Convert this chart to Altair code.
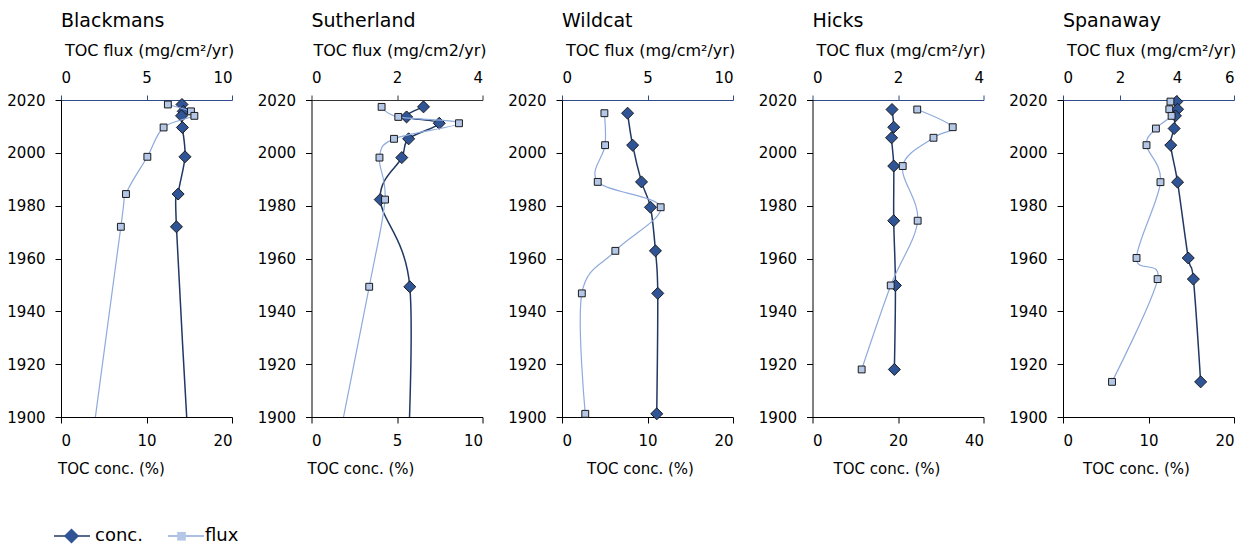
import altair as alt
import pandas as pd

# ---------------- data ----------------
SITES = ["Blackmans", "Sutherland", "Wildcat", "Hicks", "Spanaway"]
SERIES = ["conc.", "flux"]
MARKER_KEYS = ["c", "f"]

blackmans_year = [2018.3, 2015.7, 2014.0, 2009.6, 1998.5, 1984.4, 1972.0, 1880.0]
blackmans_conc = [14.15, 14.3, 14.1, 14.2, 14.5, 13.7, 13.5, 15.05]
blackmans_flux = [6.25, 7.6, 7.8, 6.0, 5.05, 3.8, 3.5, 1.6]

sutherland_year = [2017.4, 2013.6, 2011.2, 2005.3, 1998.2, 1982.3, 1949.3, 1870.0]
sutherland_conc = [6.55, 5.56, 7.47, 5.68, 5.28, 4.02, 5.75, 5.55]
sutherland_flux = [1.64, 2.03, 3.45, 1.93, 1.59, 1.72, 1.35, 0.38]

wildcat_year = [2015.0, 2002.9, 1989.0, 1979.4, 1962.9, 1946.8, 1901.2]
wildcat_conc = [7.67, 8.26, 9.3, 10.35, 10.93, 11.2, 11.08]
wildcat_flux = [2.48, 2.52, 2.09, 5.77, 3.12, 1.16, 1.36]

hicks_year = [2016.4, 2009.7, 2005.7, 1995.0, 1974.3, 1949.8, 1918.0]
hicks_conc = [18.6, 19.0, 18.5, 19.0, 19.0, 19.4, 19.15]
hicks_flux = [2.45, 3.28, 2.83, 2.11, 2.46, 1.83, 1.15]

spanaway_year = [2019.4, 2016.5, 2014.0, 2009.2, 2002.9, 1988.9, 1960.2, 1952.2, 1913.3]
spanaway_conc = [13.3, 13.4, 13.15, 13.0, 12.6, 13.4, 14.65, 15.25, 16.1]
spanaway_flux = [3.77, 3.73, 3.81, 3.26, 2.93, 3.42, 2.58, 3.32, 1.72]

YEARS = [blackmans_year, sutherland_year, wildcat_year, hicks_year, spanaway_year]
CONC = [blackmans_conc, sutherland_conc, wildcat_conc, hicks_conc, spanaway_conc]
FLUX = [blackmans_flux, sutherland_flux, wildcat_flux, hicks_flux, spanaway_flux]

YEAR_DOMAIN = [1900, 2020]
YEAR_TICKS = [1900, 1920, 1940, 1960, 1980, 2000, 2020]
CONC_DOMAIN = [[0, 20], [0, 10], [0, 20], [0, 40], [0, 20]]
CONC_TICKS = [[0, 10, 20], [0, 5, 10], [0, 10, 20], [0, 20, 40], [0, 10, 20]]
FLUX_DOMAIN = [[0, 10], [0, 4], [0, 10], [0, 4], [0, 6]]
FLUX_TICKS = [[0, 5, 10], [0, 2, 4], [0, 5, 10], [0, 2, 4], [0, 2, 4, 6]]
FLUX_TITLES = ["TOC flux (mg/cm²/yr)", "TOC flux (mg/cm2/yr)", "TOC flux (mg/cm²/yr)",
               "TOC flux (mg/cm²/yr)", "TOC flux (mg/cm²/yr)"]
CONC_TITLE = "TOC conc. (%)"

# ---------------- styles ----------------
CONC_LINE = "#1F3864"
CONC_FILL = "#2F5597"
FLUX_LINE = "#8FAADC"
FLUX_FILL = "#B4C7E7"
MARKER_STROKE = "#1A1A1A"
TOP_AXIS_COLORS = ["#2F4B8A", "#333333", "#2F4B8A", "#2F4B8A", "#2F4B8A"]
CONC_TITLE_X = [50, 49, 78, 74, 73]
FONT = "DejaVu Sans"
PLOT_W = 171
PLOT_H = 317

DIAMOND = "M0,-0.42L0.42,0L0,0.42L-0.42,0Z"
SQUARE = "M-0.24,-0.24H0.24V0.24H-0.24Z"

LEG_X = -8
LEG_Y = 417

# line part of the legend: no label text, columns spaced to sit under the marker legend
legend_lines = alt.Legend(
    title=None, orient="none", legendX=LEG_X, legendY=LEG_Y, direction="horizontal",
    symbolType="stroke", symbolSize=1296, symbolStrokeWidth=1.5,
    labelExpr="''", labelFontSize=18, labelFont=FONT, labelOffset=0,
    columnPadding=72, padding=0, zindex=1,
)
legend_marks = alt.Legend(
    title=None, orient="none", legendX=LEG_X, legendY=LEG_Y, direction="horizontal",
    symbolSize=1296, symbolStrokeColor=MARKER_STROKE, symbolStrokeWidth=1,
    labelExpr="datum.label == 'c' ? 'conc.' : 'flux'",
    labelFontSize=18, labelFont=FONT, labelColor="black", labelOffset=5,
    columnPadding=20, padding=0, zindex=2,
)


def panel(i):
    yrs = YEARS[i]
    n = len(yrs)
    df = pd.DataFrame({
        "year": yrs + yrs,
        "value": CONC[i] + FLUX[i],
        "series": [SERIES[0]] * n + [SERIES[1]] * n,
        "marker": [MARKER_KEYS[0]] * n + [MARKER_KEYS[1]] * n,
    })

    y_enc = alt.Y(
        "year:Q",
        scale=alt.Scale(domain=YEAR_DOMAIN, nice=False, zero=False),
        axis=alt.Axis(values=YEAR_TICKS, format="d", title=None, tickSize=6,
                      labelPadding=10, domainColor="black", tickColor="black"),
    )
    stroke_enc = alt.Stroke("series:N", scale=alt.Scale(domain=SERIES, range=[CONC_LINE, FLUX_LINE]),
                            legend=legend_lines)
    fill_enc = alt.Fill("marker:N", scale=alt.Scale(domain=MARKER_KEYS, range=[CONC_FILL, FLUX_FILL]),
                        legend=legend_marks)
    shape_enc = alt.Shape("marker:N", scale=alt.Scale(domain=MARKER_KEYS, range=[DIAMOND, SQUARE]),
                          legend=legend_marks)
    order_enc = alt.Order("year:Q", sort="descending")

    conc_x = alt.X(
        "value:Q",
        scale=alt.Scale(domain=CONC_DOMAIN[i], nice=False),
        axis=alt.Axis(orient="bottom", values=CONC_TICKS[i], title=CONC_TITLE,
                      titleX=CONC_TITLE_X[i], tickSize=6, labelPadding=10, titlePadding=13,
                      domainColor="black", tickColor="black", titleFontSize=15),
    )
    flux_x = alt.X(
        "value:Q",
        scale=alt.Scale(domain=FLUX_DOMAIN[i], nice=False),
        axis=alt.Axis(orient="top", values=FLUX_TICKS[i], title=FLUX_TITLES[i],
                      titleX=88, tickSize=5, labelPadding=10, titlePadding=12,
                      domainColor=TOP_AXIS_COLORS[i], tickColor=TOP_AXIS_COLORS[i],
                      titleFontSize=16),
    )

    base = alt.Chart(df)
    conc_df = base.transform_filter(alt.datum.series == SERIES[0])
    flux_df = base.transform_filter(alt.datum.series == SERIES[1])

    conc_line = conc_df.mark_line(interpolate="cardinal", strokeWidth=1.5, clip=True).encode(
        x=conc_x, y=y_enc, order=order_enc, stroke=stroke_enc)
    conc_pts = conc_df.transform_filter(alt.datum.year >= 1899).mark_point(
        filled=True, size=816, stroke=MARKER_STROKE, strokeWidth=1, opacity=1).encode(
        x=conc_x, y=y_enc, fill=fill_enc, shape=shape_enc)
    flux_line = flux_df.mark_line(interpolate="cardinal", strokeWidth=1.2, clip=True).encode(
        x=flux_x, y=y_enc, order=order_enc, stroke=stroke_enc)
    flux_pts = flux_df.transform_filter(alt.datum.year >= 1899).mark_point(
        filled=True, size=816, stroke=MARKER_STROKE, strokeWidth=1, opacity=1).encode(
        x=flux_x, y=y_enc, fill=fill_enc, shape=shape_enc)

    conc_layer = alt.layer(conc_line, conc_pts)
    flux_layer = alt.layer(flux_line, flux_pts)
    return alt.layer(conc_layer, flux_layer).resolve_scale(x="independent").properties(
        width=PLOT_W, height=PLOT_H,
        title=alt.TitleParams(SITES[i], anchor="start", frame="group", fontSize=19,
                              fontWeight="normal", offset=11, color="black", font=FONT),
    )


chart = alt.hconcat(*[panel(i) for i in range(len(SITES))], spacing=79.5, bounds="flush").properties(
    padding={"left": 6, "top": 12, "right": 5, "bottom": 5}
).configure(font=FONT).configure_view(stroke=None).configure_axis(
    grid=False, labelFont=FONT, labelFontSize=15, labelColor="black",
    titleFont=FONT, titleFontWeight="normal", titleColor="black",
    domainWidth=1, tickWidth=1,
)

chart.save("out.html", embed_options={"renderer": "svg", "actions": False})
